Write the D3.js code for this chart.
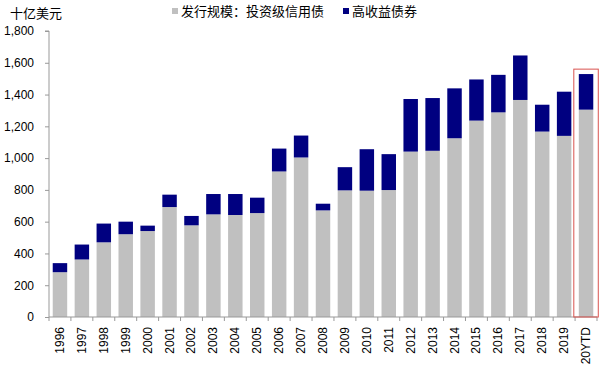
<!DOCTYPE html>
<html>
<head>
<meta charset="utf-8">
<script src="https://cdnjs.cloudflare.com/ajax/libs/d3/7.8.5/d3.min.js"></script>
<style>
  body { margin: 0; background: #fff; }
  svg { display: block; }
</style>
</head>
<body>
<script>
// chart data (billion USD)
var years = ["1996","1997","1998","1999","2000","2001","2002","2003","2004","2005","2006","2007","2008",
             "2009","2010","2011","2012","2013","2014","2015","2016","2017","2018","2019","20YTD"];
var investGrade = [282,362,470,521,541,692,577,646,642,654,916,1004,671,797,795,799,1041,1046,1125,1236,1288,1366,1167,1140,1305];
var highYield   = [57,94,118,79,34,78,59,128,132,97,144,138,42,146,261,226,331,332,314,259,236,280,169,278,224];
var yTicks = [0,200,400,600,800,1000,1200,1400,1600,1800];
var seriesNames = ["发行规模：投资级信用债", "高收益债券"];
var colors = ["#c0c0c0", "#000080"];

var width = 600, height = 375;
var margin = {left:49, right:3, top:31, bottom:58};

var svg = d3.select("body").append("svg").attr("width", width).attr("height", height);

var x = d3.scaleBand()
          .domain(years)
          .range([margin.left, width - margin.right])
          .paddingInner(0.34)
          .paddingOuter(0.17);

var y = d3.scaleLinear()
          .domain([0, 1800])
          .range([height - margin.bottom, margin.top]);

// stacked bars
var rows = years.map(function(d, i){ return {year:d, ig:investGrade[i], hy:highYield[i]}; });
var stack = d3.stack().keys(["ig","hy"])(rows);

svg.selectAll("g.layer")
   .data(stack)
   .enter().append("g")
   .attr("fill", function(d, i){ return colors[i]; })
   .selectAll("rect")
   .data(function(d){ return d; })
   .enter().append("rect")
   .attr("x", function(d){ return x(d.data.year); })
   .attr("width", x.bandwidth())
   .attr("y", function(d){ return y(d[1]); })
   .attr("height", function(d){ return y(d[0]) - y(d[1]); });

// y axis
var yAxis = d3.axisLeft(y).tickValues(yTicks).tickSize(4).tickPadding(11).tickFormat(d3.format(","));
var gy = svg.append("g").attr("transform", "translate(" + margin.left + ",0)").call(yAxis);
gy.select(".domain").attr("stroke", "#999").attr("d", "M-4," + y(1800) + "H0V" + y(0));
gy.selectAll(".tick line").attr("stroke", "#999");
gy.selectAll("text").attr("font-family", "Liberation Sans, Arial, sans-serif").attr("font-size", 12).attr("fill", "#000");

// x axis: ticks sit between the categories
var gx = svg.append("g").attr("transform", "translate(0," + y(0) + ")");
gx.append("line").attr("x1", margin.left).attr("x2", width - margin.right).attr("stroke", "#999");
var step = x.step();
var bounds = years.map(function(d){ return x(d) - step * 0.17; }).concat([x(years[years.length-1]) + x.bandwidth() + step * 0.17]);
gx.selectAll("line.tk").data(bounds).enter().append("line")
  .attr("class", "tk")
  .attr("x1", function(d){ return d; }).attr("x2", function(d){ return d; })
  .attr("y1", 0).attr("y2", 4).attr("stroke", "#999");
gx.selectAll("text").data(years).enter().append("text")
  .attr("transform", function(d){ return "translate(" + (x(d) + x.bandwidth()/2 + 4) + ",10) rotate(-90)"; })
  .attr("text-anchor", "end")
  .attr("font-family", "Liberation Sans, Arial, sans-serif")
  .attr("font-size", 12)
  .text(function(d){ return d; });

// highlight box around the latest bar
var last = years[years.length-1];
svg.append("rect")
   .attr("x", x(last) - 5).attr("y", y(1560))
   .attr("width", x.bandwidth() + 10).attr("height", y(0) - y(1560))
   .attr("fill", "none").attr("stroke", "#d9534f").attr("stroke-width", 1);

// unit label
svg.append("text").attr("x", 10).attr("y", 18)
   .attr("font-family", "Noto Sans CJK SC, sans-serif").attr("font-size", 13)
   .text("十亿美元");

// legend
var legendX = [172, 343];
var lg = svg.selectAll("g.legend").data(seriesNames).enter().append("g")
   .attr("transform", function(d, i){ return "translate(" + legendX[i] + ",0)"; });
lg.append("rect").attr("x", 0).attr("y", 8).attr("width", 6).attr("height", 6)
  .attr("fill", function(d, i){ return colors[i]; });
lg.append("text").attr("x", 9).attr("y", 16)
  .attr("font-family", "Noto Sans CJK SC, sans-serif").attr("font-size", 13)
  .text(function(d){ return d; });
</script>
</body>
</html>
